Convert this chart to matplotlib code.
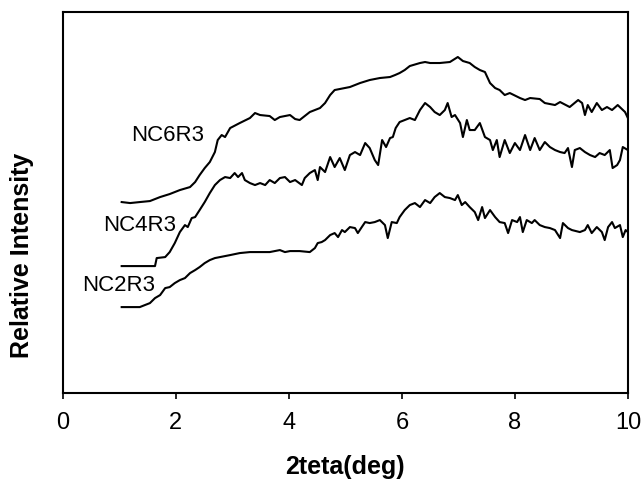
import numpy as np
import matplotlib
matplotlib.use("Agg")
import matplotlib.pyplot as plt

plt.rcParams['font.family'] = ['Liberation Sans', 'DejaVu Sans']

# 2theta (deg) and relative intensity (arbitrary units)
nc6_x = [1.04, 1.19, 1.36, 1.54, 1.72, 1.89, 2.07, 2.25, 2.34, 2.42, 2.51, 2.60, 2.69,
         2.74, 2.81, 2.87, 2.96, 3.13, 3.31, 3.40, 3.49, 3.66, 3.75, 3.84, 4.02, 4.11,
         4.19, 4.37, 4.46, 4.55, 4.64, 4.73, 4.81, 4.90, 5.08, 5.26, 5.43, 5.61, 5.79,
         5.88, 5.96, 6.05, 6.14, 6.32, 6.41, 6.50, 6.67, 6.85, 6.99, 7.08, 7.20, 7.29,
         7.38, 7.47, 7.56, 7.65, 7.73, 7.82, 7.91, 8.09, 8.18, 8.27, 8.44, 8.53, 8.71,
         8.80, 8.97, 9.12, 9.19, 9.24, 9.29, 9.36, 9.45, 9.54, 9.63, 9.72, 9.82, 9.95,
         10.0]
nc6_y = [191, 190, 191, 192, 196, 199, 203, 206, 211, 218, 225, 231, 241,
         253, 258, 256, 265, 270, 275, 280, 278, 277, 273, 276, 278, 274,
         273, 281, 283, 285, 290, 298, 303, 304, 306, 310, 313, 315, 316,
         318, 320, 323, 327, 330, 331, 330, 330, 331, 336, 332, 330, 326,
         323, 321, 310, 305, 303, 298, 300, 295, 293, 295, 294, 290, 288,
         291, 286, 293, 290, 278, 288, 281, 290, 283, 286, 283, 288, 281,
         275]

nc4_x = [1.04, 1.63, 1.66, 1.81, 1.89, 1.98, 2.07, 2.16, 2.21, 2.28, 2.34, 2.42, 2.51,
         2.60, 2.69, 2.78, 2.87, 2.96, 3.04, 3.10, 3.17, 3.22, 3.31, 3.40, 3.49, 3.58,
         3.66, 3.75, 3.84, 3.93, 4.02, 4.11, 4.23, 4.28, 4.37, 4.46, 4.51, 4.55, 4.64,
         4.73, 4.81, 4.90, 4.99, 5.08, 5.17, 5.26, 5.35, 5.43, 5.52, 5.58, 5.65, 5.72,
         5.79, 5.84, 5.89, 5.96, 6.05, 6.14, 6.23, 6.32, 6.41, 6.50, 6.58, 6.67, 6.76,
         6.81, 6.88, 6.94, 7.03, 7.08, 7.15, 7.20, 7.29, 7.38, 7.47, 7.56, 7.61, 7.68,
         7.73, 7.82, 7.91, 8.00, 8.09, 8.18, 8.27, 8.35, 8.44, 8.53, 8.62, 8.71, 8.80,
         8.88, 8.94, 9.01, 9.06, 9.15, 9.24, 9.33, 9.42, 9.50, 9.59, 9.68, 9.73, 9.81,
         9.86, 9.91, 10.0]
nc4_y = [127, 127, 135, 136, 141, 150, 161, 168, 166, 175, 176, 183, 191,
         200, 208, 213, 216, 215, 220, 216, 220, 213, 210, 208, 210, 208,
         213, 210, 215, 216, 211, 213, 208, 215, 220, 223, 213, 226, 221,
         236, 226, 235, 223, 238, 241, 238, 250, 245, 233, 228, 253, 246,
         255, 256, 265, 271, 273, 275, 273, 283, 290, 286, 281, 278, 283,
         290, 276, 278, 270, 256, 273, 263, 263, 270, 256, 253, 243, 253,
         236, 253, 240, 250, 243, 258, 243, 255, 243, 251, 246, 243, 241,
         240, 245, 226, 243, 245, 241, 238, 236, 240, 238, 243, 225, 228,
         233, 246, 243]

nc2_x = [1.04, 1.36, 1.45, 1.54, 1.63, 1.72, 1.81, 1.89, 1.98, 2.07, 2.16, 2.25, 2.34,
         2.42, 2.51, 2.60, 2.69, 2.78, 2.96, 3.13, 3.31, 3.49, 3.66, 3.84, 3.93, 4.02,
         4.19, 4.37, 4.46, 4.51, 4.58, 4.64, 4.73, 4.81, 4.87, 4.94, 4.99, 5.08, 5.17,
         5.22, 5.29, 5.35, 5.43, 5.52, 5.61, 5.70, 5.75, 5.82, 5.91, 5.96, 6.05, 6.14,
         6.23, 6.32, 6.41, 6.50, 6.58, 6.67, 6.76, 6.85, 6.94, 6.99, 7.06, 7.12, 7.20,
         7.29, 7.35, 7.42, 7.47, 7.56, 7.65, 7.73, 7.82, 7.88, 7.95, 8.04, 8.09, 8.14,
         8.21, 8.30, 8.35, 8.44, 8.53, 8.62, 8.71, 8.80, 8.85, 8.94, 9.01, 9.15, 9.24,
         9.29, 9.36, 9.45, 9.54, 9.59, 9.65, 9.72, 9.77, 9.86, 9.91, 9.96, 10.0]
nc2_y = [86, 86, 88, 90, 95, 98, 105, 106, 110, 113, 115, 120, 123,
         126, 130, 133, 135, 136, 138, 140, 141, 141, 141, 143, 141, 142,
         142, 141, 145, 150, 151, 153, 158, 160, 156, 163, 161, 166, 165,
         160, 166, 171, 170, 171, 173, 168, 155, 171, 170, 176, 183, 188,
         190, 186, 193, 190, 196, 200, 196, 195, 193, 198, 188, 191, 186,
         181, 173, 186, 175, 183, 176, 171, 170, 160, 173, 171, 176, 161,
         173, 170, 173, 168, 166, 165, 163, 155, 170, 165, 163, 161, 163,
         168, 160, 166, 161, 153, 166, 171, 165, 168, 156, 163, 161]

labels = ["NC6R3", "NC4R3", "NC2R3"]
label_x = [1.86, 1.35, 0.99]
label_y = [258, 168, 108]

fig = plt.figure(figsize=(6.42, 4.8), dpi=100)
ax = fig.add_axes([0.098, 0.181, 0.880, 0.794])

for xs, ys in [(nc6_x, nc6_y), (nc4_x, nc4_y), (nc2_x, nc2_y)]:
    ax.plot(xs, ys, color='black', lw=1.5)

for lab, lx, ly in zip(labels, label_x, label_y):
    ax.text(lx, ly, lab, fontsize=16, ha='center', va='center')

ax.set_xlim(0, 10)
ax.set_ylim(0, 381)
ax.set_xticks(np.arange(0, 11, 2))
ax.set_yticks([])
ax.tick_params(axis='x', direction='out', length=4.5, width=1.2, labelsize=17, pad=9)

for side in ['left', 'right', 'top', 'bottom']:
    ax.spines[side].set_linewidth(1.5)
    ax.spines[side].set_color('black')

ax.set_xlabel("2teta(deg)", fontsize=18, fontweight='bold')
ax.xaxis.set_label_coords(0.5, -0.194)
ax.xaxis.label.set_va('center')
ax.set_ylabel("Relative Intensity", fontsize=18, fontweight='bold')
ax.yaxis.set_label_coords(-0.073, 0.362)
ax.yaxis.label.set_va('center')

fig.savefig("out.png", dpi=100)
